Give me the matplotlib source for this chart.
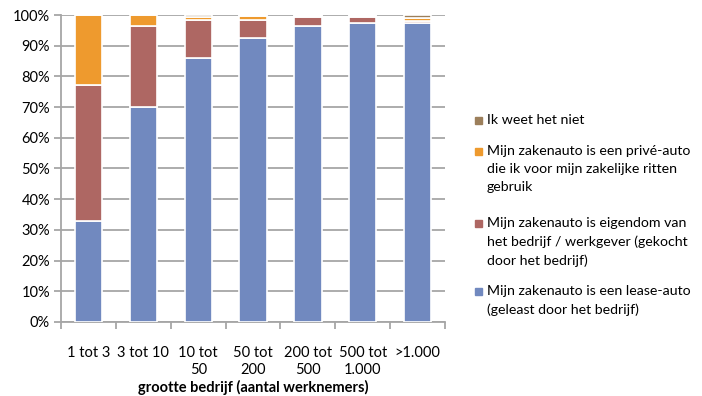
import matplotlib.pyplot as plt
import numpy as np
from matplotlib.patches import Rectangle

plt.rcParams["font.family"] = ["Lato", "DejaVu Sans"]

categories = ["1 tot 3", "3 tot 10", "10 tot\n50", "50 tot\n200", "200 tot\n500", "500 tot\n1.000", ">1.000"]
lease = [33.0, 70.0, 86.0, 92.6, 96.4, 97.3, 97.3]
eigendom = [44.2, 26.3, 12.3, 5.8, 3.0, 2.1, 0.7]
prive = [22.8, 3.7, 1.2, 1.3, 0.2, 0.3, 1.2]
weet_niet = [0.0, 0.0, 0.5, 0.3, 0.4, 0.3, 0.8]

labels = [
    "Mijn zakenauto is een lease-auto\n(geleast door het bedrijf)",
    "Mijn zakenauto is eigendom van\nhet bedrijf / werkgever (gekocht\ndoor het bedrijf)",
    "Mijn zakenauto is een privé-auto\ndie ik voor mijn zakelijke ritten\ngebruik",
    "Ik weet het niet",
]
colors = ["#7189BF", "#AE6763", "#EE9A2E", "#9C7F5B"]

W, H = 702, 396
fig = plt.figure(figsize=(W / 100, H / 100), dpi=100)
ax = fig.add_axes([0.087, 0.187, 0.547, 0.775])

x = np.arange(len(categories))
bottom = np.zeros(len(categories))
for vals, col in zip([lease, eigendom, prive, weet_niet], colors):
    ax.bar(x, vals, width=0.5, bottom=bottom, color=col, edgecolor="white", linewidth=1.2, zorder=3)
    bottom += np.array(vals)

ax.set_ylim(0, 100)
ax.set_xlim(-0.5, len(categories) - 0.5)
ax.set_yticks(np.arange(0, 101, 10))
ax.set_yticklabels([f"{v}%" for v in range(0, 101, 10)], fontsize=10.5)
ax.yaxis.grid(True, color="#A6A6A6", linewidth=1.3, zorder=0)
ax.tick_params(axis="y", length=5, color="#A6A6A6", width=1.3, pad=3)

ax.set_xticks(x)
ax.set_xticklabels(categories, fontsize=10.5, linespacing=1.35)
ax.set_xticks(np.arange(-0.5, len(categories)), minor=True)
ax.tick_params(axis="x", which="major", length=0, pad=17)
ax.tick_params(axis="x", which="minor", length=5, color="#A6A6A6", width=1.3)
ax.set_xlabel("grootte bedrijf (aantal werknemers)", fontsize=10.5, fontweight="bold", va="center")
ax.xaxis.set_label_coords(0.5, -0.213)

for side in ["top", "right"]:
    ax.spines[side].set_visible(False)
for side in ["left", "bottom"]:
    ax.spines[side].set_color("#A6A6A6")
    ax.spines[side].set_linewidth(1.3)

# legend drawn by hand so the swatch sits next to the first line of each entry
first_line_y = [291, 223, 151, 120]  # pixel rows from the top
for lab, col, yc in zip(labels, colors, first_line_y):
    fig.add_artist(Rectangle((475 / W, 1 - (yc + 3.5) / H), 7 / W, 7 / H,
                             transform=fig.transFigure, color=col))
    fig.text(487 / W, 1 - (yc - 6) / H, lab, fontsize=10.2, va="top", ha="left",
             linespacing=1.6)

fig.savefig("out.png", dpi=100)
